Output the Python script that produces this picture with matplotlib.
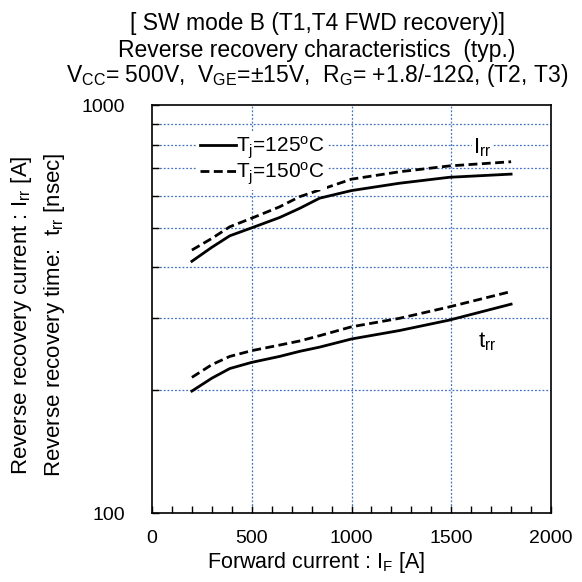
import matplotlib
matplotlib.use("Agg")
import matplotlib.pyplot as plt
from matplotlib.ticker import FixedLocator, NullFormatter

plt.rcParams["font.family"] = ["Liberation Sans", "DejaVu Sans"]
plt.rcParams["mathtext.fontset"] = "custom"
plt.rcParams["mathtext.rm"] = "Liberation Sans"

# values
i_f = [200, 300, 390, 500, 640, 740, 840, 1000, 1240, 1490, 1800]
irr_125 = [414, 448, 478, 500, 530, 558, 591, 617, 643, 665, 677]
irr_150 = [441, 471, 503, 528, 563, 596, 619, 658, 686, 709, 726]
trr_125 = [199, 214, 226, 234, 242, 249, 255, 267, 280, 297, 325]
trr_150 = [215, 231, 242, 250, 258, 264, 272, 286, 300, 320, 349]

x_ticks = [0, 500, 1000, 1500, 2000]
y_ticks = [100, 1000]
y_minor = [200, 300, 400, 500, 600, 700, 800, 900]

W = 582.0

fig = plt.figure(figsize=(5.82, 5.82), dpi=100)
ax = fig.add_axes([152 / W, 69 / W, 399 / W, 408 / W])

grid_kw = dict(color="#4472C4", linestyle=(0, (1.5, 1.5)), linewidth=0.9, zorder=1)
for v in y_minor:
    ax.axhline(v, **grid_kw)
for v in x_ticks[1:-1]:
    ax.axvline(v, **grid_kw)

dash = (0, (3.2, 1.6))
ax.plot(i_f, irr_125, color="black", lw=2, zorder=3,
        label=r"$\mathregular{T_j}$=125$\mathregular{^o}$C")
ax.plot(i_f, irr_150, color="black", lw=2, ls=dash, zorder=3,
        label=r"$\mathregular{T_j}$=150$\mathregular{^o}$C")
ax.plot(i_f, trr_125, color="black", lw=2, zorder=3)
ax.plot(i_f, trr_150, color="black", lw=2, ls=dash, zorder=3)

ax.set_yscale("log")
ax.set_xlim(0, 2000)
ax.set_ylim(100, 1000)
ax.set_xticks(x_ticks)
ax.set_xticklabels([str(v) for v in x_ticks])
ax.xaxis.set_minor_locator(FixedLocator(range(100, 2000, 100)))
ax.yaxis.set_major_locator(FixedLocator(y_ticks))
ax.set_yticklabels([str(v) for v in y_ticks])
ax.yaxis.set_minor_locator(FixedLocator(y_minor))
ax.yaxis.set_minor_formatter(NullFormatter())
ax.tick_params(which="both", direction="in", length=5, width=1, top=False, right=False,
               labelsize=14)
ax.tick_params(axis="x", pad=12)
ax.tick_params(axis="y", pad=19.5)
for s in ax.spines.values():
    s.set_linewidth(1.2)

leg = ax.legend(loc="upper left", bbox_to_anchor=(197 / W, 1 - 131 / W),
                bbox_transform=fig.transFigure, fontsize=15,
                handlelength=1.7, handletextpad=0.0, labelspacing=0.0, borderpad=0.15,
                borderaxespad=0, frameon=True, fancybox=False)
leg.get_frame().set_facecolor("white")
leg.get_frame().set_edgecolor("none")
leg.get_frame().set_alpha(1)

ax.text(1609, 762, r"$\mathregular{I_{rr}}$", fontsize=16, ha="left", va="baseline", zorder=4,
        bbox=dict(facecolor="white", edgecolor="none", pad=1))
ax.text(1634, 254, r"$\mathregular{t_{rr}}$", fontsize=16, ha="left", va="baseline", zorder=4)

fig.text(316 / W, 1 - 568 / W, r"Forward current : $\mathregular{I_F}$ [A]", fontsize=15.5,
         ha="center", va="baseline")

fig.text(317 / W, 1 - 30 / W, "[ SW mode B (T1,T4 FWD recovery)]", fontsize=16.5,
         ha="center", va="baseline")
fig.text(317 / W, 1 - 57 / W, "Reverse recovery characteristics  (typ.)", fontsize=16.5,
         ha="center", va="baseline")
fig.text(317 / W, 1 - 82 / W,
         r"$\mathregular{V_{CC}}$= 500V,  $\mathregular{V_{GE}}$=±15V,  $\mathregular{R_G}$= +1.8/-12Ω, (T2, T3)",
         fontsize=16.5, ha="center", va="baseline")

fig.text(22 / W, 1 - 315 / W, r"Reverse recovery current : $\mathregular{I_{rr}}$ [A]",
         fontsize=16, rotation=90, ha="center", va="center")
fig.text(55 / W, 1 - 315 / W, r"Reverse recovery time:  $\mathregular{t_{rr}}$ [nsec]",
         fontsize=16, rotation=90, ha="center", va="center")

fig.savefig("out.png", dpi=100)
